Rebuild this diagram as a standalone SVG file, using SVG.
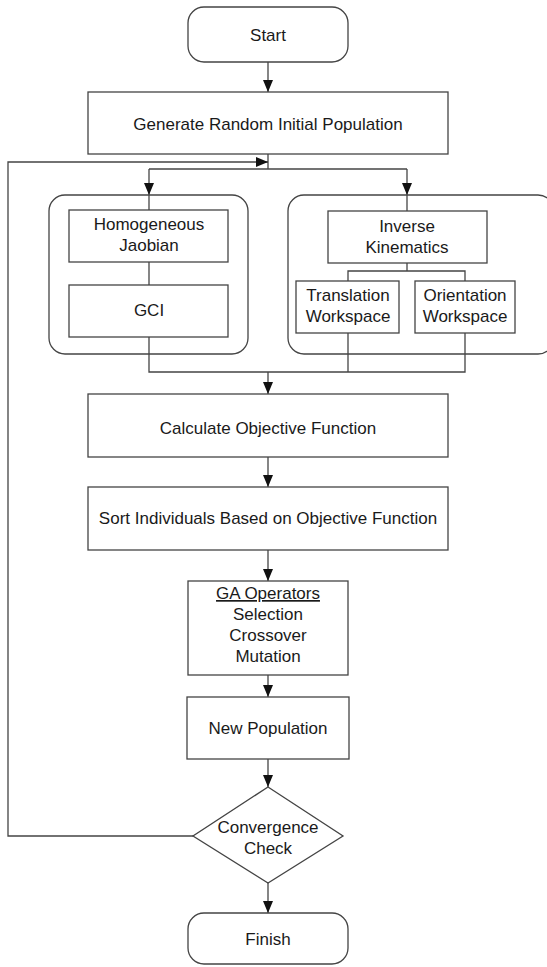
<svg xmlns="http://www.w3.org/2000/svg" width="547" height="967" viewBox="0 0 547 967">
<style>
.box{fill:#fff;stroke:#444;stroke-width:1.3}
.cont{fill:none;stroke:#444;stroke-width:1.3}
.t{font-family:"Liberation Sans",Arial,sans-serif;font-size:17px;fill:#1a1a1a;text-anchor:middle}
.c{fill:none;stroke:#444;stroke-width:1.3}
</style>
<defs>
<marker id="arr" markerUnits="userSpaceOnUse" markerWidth="12" markerHeight="10" refX="12" refY="5" orient="auto">
<path d="M0,0 L12,5 L0,10 z" fill="#111"/>
</marker>
</defs>
<rect width="547" height="967" fill="#fff"/>
<g id="connectors">
<path class="c" d="M268,62 V92" marker-end="url(#arr)"/>
<path class="c" d="M268,154 V169"/>
<path class="c" d="M149,169 H407"/>
<path class="c" d="M149,169 V195" marker-end="url(#arr)"/>
<path class="c" d="M407,169 V195" marker-end="url(#arr)"/>
<path class="c" d="M149,195 V210"/>
<path class="c" d="M407,195 V211"/>
<path class="c" d="M149,262 V285"/>
<path class="c" d="M407,263 V271"/>
<path class="c" d="M348,281 V271 H465 V281"/>
<path class="c" d="M149,337 V372 H465 V333"/>
<path class="c" d="M348,333 V372"/>
<path class="c" d="M268,372 V394" marker-end="url(#arr)"/>
<path class="c" d="M268,457 V487" marker-end="url(#arr)"/>
<path class="c" d="M268,550 V581" marker-end="url(#arr)"/>
<path class="c" d="M268,675 V697" marker-end="url(#arr)"/>
<path class="c" d="M268,759 V787" marker-end="url(#arr)"/>
<path class="c" d="M268,883 V913" marker-end="url(#arr)"/>
<path class="c" d="M193,836 H8 V162 H268" marker-end="url(#arr)"/>
</g>
<g id="start">
<rect class="box" x="188" y="7" width="160" height="55" rx="16"/>
<text class="t" x="268" y="41">Start</text>
</g>
<g id="generate">
<rect class="box" x="88" y="92" width="360" height="62"/>
<text class="t" x="268" y="130">Generate Random Initial Population</text>
</g>
<g id="group-left">
<rect class="cont" x="49" y="195" width="199" height="159" rx="16"/>
</g>
<g id="group-right">
<rect class="cont" x="288" y="195" width="266" height="159" rx="16"/>
</g>
<g id="jacobian">
<rect class="box" x="69" y="210" width="159" height="52"/>
<text class="t" x="149" y="230">Homogeneous</text>
<text class="t" x="149" y="251">Jaobian</text>
</g>
<g id="gci">
<rect class="box" x="69" y="285" width="159" height="52"/>
<text class="t" x="149" y="316">GCI</text>
</g>
<g id="ik">
<rect class="box" x="328" y="211" width="159" height="52"/>
<text class="t" x="407" y="232">Inverse</text>
<text class="t" x="407" y="253">Kinematics</text>
</g>
<g id="translation">
<rect class="box" x="296" y="281" width="103" height="52"/>
<text class="t" x="348" y="301">Translation</text>
<text class="t" x="348" y="322">Workspace</text>
</g>
<g id="orientation">
<rect class="box" x="415" y="281" width="100" height="52"/>
<text class="t" x="465" y="301">Orientation</text>
<text class="t" x="465" y="322">Workspace</text>
</g>
<g id="calculate">
<rect class="box" x="88" y="394" width="360" height="63"/>
<text class="t" x="268" y="434">Calculate Objective Function</text>
</g>
<g id="sort">
<rect class="box" x="88" y="487" width="360" height="63"/>
<text class="t" x="268" y="524">Sort Individuals Based on Objective Function</text>
</g>
<g id="ga">
<rect class="box" x="188" y="581" width="160" height="94"/>
<text class="t" x="268" y="599" text-decoration="underline">GA Operators</text>
<text class="t" x="268" y="620">Selection</text>
<text class="t" x="268" y="641">Crossover</text>
<text class="t" x="268" y="662">Mutation</text>
</g>
<g id="newpop">
<rect class="box" x="187" y="697" width="162" height="62"/>
<text class="t" x="268" y="734">New Population</text>
</g>
<g id="convergence">
<polygon class="box" points="268,787 343,836 268,883 193,836"/>
<text class="t" x="268" y="833">Convergence</text>
<text class="t" x="268" y="854">Check</text>
</g>
<g id="finish">
<rect class="box" x="188" y="913" width="160" height="51" rx="16"/>
<text class="t" x="268" y="945">Finish</text>
</g>
</svg>
